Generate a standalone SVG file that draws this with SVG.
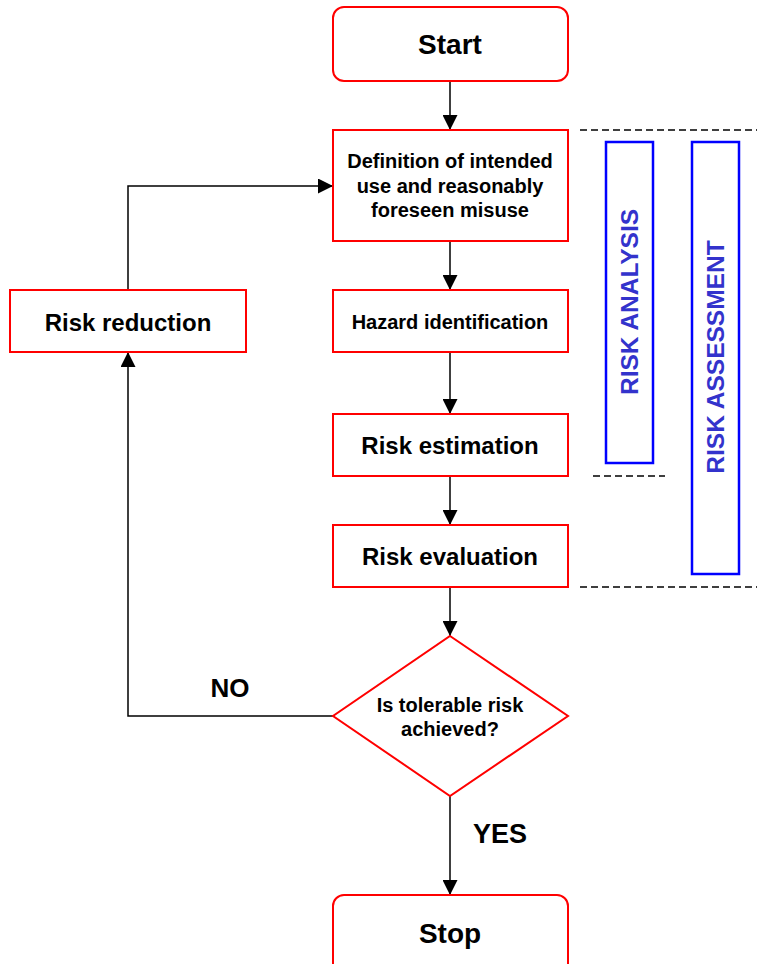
<svg xmlns="http://www.w3.org/2000/svg" width="757" height="964" viewBox="0 0 757 964">
<defs>
<marker id="arr" viewBox="0 0 10 10" refX="10" refY="5" markerWidth="15" markerHeight="15" markerUnits="userSpaceOnUse" orient="auto"><path d="M0,0 L10,5 L0,10 Z" fill="#000"/></marker>
<style>
.box{fill:#fff;stroke:#ff0000;stroke-width:2}
.band{fill:#fff;stroke:#0000ff;stroke-width:2.5}
.t{font-family:"Liberation Sans",Arial,sans-serif;font-weight:bold;fill:#000;text-anchor:middle}
.bt{font-family:"Liberation Sans",Arial,sans-serif;font-weight:bold;fill:#3333cc;text-anchor:middle}
.c{fill:none;stroke:#000;stroke-width:1.5}
.d{fill:none;stroke:#000;stroke-width:1.5;stroke-dasharray:7,4}
</style>
</defs>
<rect width="757" height="964" fill="#fff"/>
<g id="connectors">
<line class="c" x1="450" y1="81" x2="450" y2="130" marker-end="url(#arr)"/>
<line class="c" x1="450" y1="241" x2="450" y2="290" marker-end="url(#arr)"/>
<line class="c" x1="450" y1="352" x2="450" y2="414" marker-end="url(#arr)"/>
<line class="c" x1="450" y1="476" x2="450" y2="525" marker-end="url(#arr)"/>
<line class="c" x1="450" y1="587" x2="450" y2="636" marker-end="url(#arr)"/>
<line class="c" x1="450" y1="796" x2="450" y2="895" marker-end="url(#arr)"/>
<polyline class="c" points="333,716 128,716 128,352" marker-end="url(#arr)"/>
<polyline class="c" points="128,290 128,186 333,186" marker-end="url(#arr)"/>
<text class="t" x="230" y="697" font-size="26">NO</text>
<text class="t" x="500" y="843" font-size="27">YES</text>
</g>
<g id="dashes">
<line class="d" x1="580" y1="130" x2="757" y2="130"/>
<line class="d" x1="593" y1="476" x2="665" y2="476"/>
<line class="d" x1="580" y1="587" x2="757" y2="587"/>
</g>
<g id="start">
<rect class="box" x="333" y="7" width="235" height="74" rx="11"/>
<text class="t" x="450" y="54" font-size="28">Start</text>
</g>
<g id="definition">
<rect class="box" x="333" y="130" width="235" height="111"/>
<text class="t" x="450" y="168" font-size="20">Definition of intended</text>
<text class="t" x="450" y="193" font-size="20">use and reasonably</text>
<text class="t" x="450" y="217" font-size="20">foreseen misuse</text>
</g>
<g id="hazard">
<rect class="box" x="333" y="290" width="235" height="62"/>
<text class="t" x="450" y="329" font-size="20">Hazard identification</text>
</g>
<g id="estimation">
<rect class="box" x="333" y="414" width="235" height="62"/>
<text class="t" x="450" y="454" font-size="24">Risk estimation</text>
</g>
<g id="evaluation">
<rect class="box" x="333" y="525" width="235" height="62"/>
<text class="t" x="450" y="565" font-size="24">Risk evaluation</text>
</g>
<g id="decision">
<polygon class="box" points="450,636 568,716 450,796 333,716"/>
<text class="t" x="450" y="712" font-size="20">Is tolerable risk</text>
<text class="t" x="450" y="736" font-size="20">achieved?</text>
</g>
<g id="stop">
<rect class="box" x="333" y="895" width="235" height="80" rx="11"/>
<text class="t" x="450" y="943" font-size="28">Stop</text>
</g>
<g id="reduction">
<rect class="box" x="10" y="290" width="236" height="62"/>
<text class="t" x="128" y="331" font-size="24">Risk reduction</text>
</g>
<g id="risk-analysis">
<rect class="band" x="606" y="142" width="47" height="321"/>
<text class="bt" font-size="24.5" transform="translate(638,302) rotate(-90)">RISK ANALYSIS</text>
</g>
<g id="risk-assessment">
<rect class="band" x="692" y="142" width="47" height="432"/>
<text class="bt" font-size="24.5" transform="translate(724,357) rotate(-90)">RISK ASSESSMENT</text>
</g>
</svg>
